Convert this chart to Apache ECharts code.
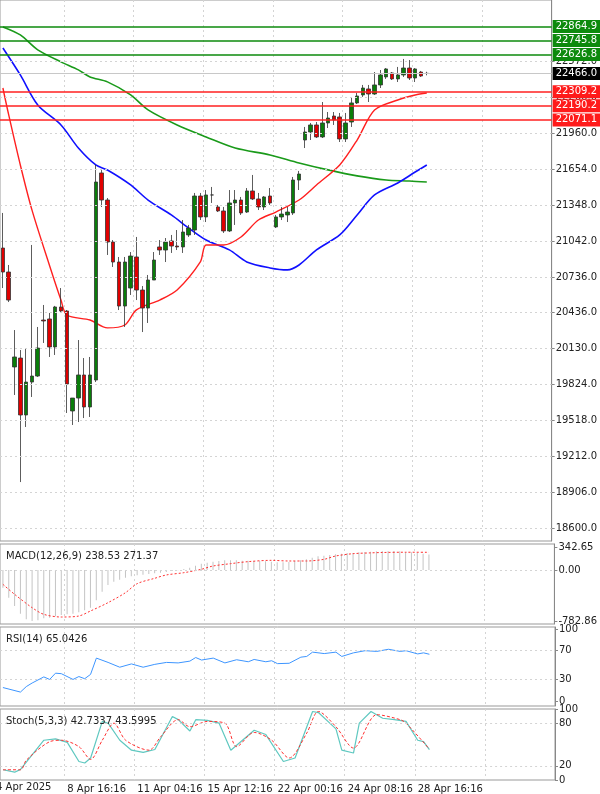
<!DOCTYPE html>
<html>
<head>
<meta charset="utf-8" />
<title>US100 H4</title>
<script src="https://cdn.jsdelivr.net/npm/echarts@6/dist/echarts.min.js"></script>
<style>
  html, body { margin: 0; padding: 0; background: #fff; }
  #chart { width: 600px; height: 794px; }
</style>
</head>
<body>
<div id="chart"></div>
<script>
// candles: [open, close, low, high]
var candles = [
  [20982,20778,20642,21280],[20778,20540,20523,20838],[19971,20056,19733,20285],[20047,19563,18993,20115],
  [19563,19843,19461,20132],[19843,19894,19716,21008],[19894,20132,19886,20311],[20370,20362,20175,20498],
  [20379,20141,20056,20430],[20141,20481,20073,20490],[20481,20447,20430,20642],[20447,19826,19580,20455],
  [19597,19707,19478,19707],[19707,19903,19503,20200],[19903,19631,19537,20047],[19631,19903,19546,20056],
  [19860,21543,19843,21688],[21620,21390,21331,21645],[21390,21033,20923,21407],[21033,20863,20821,21050],
  [20863,20489,20455,20906],[20489,20863,20311,20906],[20642,20914,20583,20948],[20906,20625,20540,21076],
  [20625,20472,20268,20659],[20472,20710,20345,20753],[20710,20880,20710,20948],[20991,20965,20923,21050],
  [20965,21033,20863,21067],[21042,20999,20940,21093],[20999,20991,20965,21135],[20991,21118,20940,21220],
  [21093,21152,21076,21178],[21135,21424,21093,21450],[21424,21246,21220,21450],[21246,21433,21203,21475],
  [21433,21433,21365,21501],[21331,21297,21288,21348],[21297,21127,21110,21331],[21127,21365,21118,21475],
  [21365,21390,21178,21475],[21390,21280,21263,21416],[21288,21467,21280,21492],[21467,21399,21390,21603],
  [21399,21331,21305,21450],[21331,21416,21305,21424],[21424,21365,21348,21492],[21161,21246,21152,21263],
  [21246,21271,21220,21331],[21263,21288,21203,21331],[21280,21560,21263,21586],[21560,21611,21475,21637],
  [21900,21968,21832,22011],[21968,22028,21900,22045],[22028,21926,21917,22053],[21926,22045,21917,22223],
  [22045,22087,22002,22138],[22104,22070,22028,22138],[22096,21909,21883,22130],[21909,22045,21883,22130],
  [22053,22215,22011,22257],[22215,22274,22206,22300],[22283,22342,22266,22368],[22334,22291,22223,22368],
  [22291,22368,22283,22478],[22368,22453,22342,22495],[22436,22504,22419,22512],[22470,22419,22410,22478],
  [22419,22453,22393,22521],[22453,22512,22436,22589],[22512,22427,22410,22580],[22427,22504,22393,22512],
  [22478,22444,22436,22487],[22466,22466,22450,22480]
];
// moving averages: [candle index, value]
var maFast = [[0,22342],[1,22113],[3,21688],[5,21306],[8,20838],[10,20540],[11,20413],[15,20370],[18,20303],
  [21,20328],[23,20456],[27,20540],[30,20625],[34,20864],[35,21008],[38,21008],[41,21076],[44,21220],[47,21288],
  [51,21390],[54,21518],[58,21688],[61,21900],[64,22155],[68,22240],[71,22283],[73,22300]];
var maMid = [[0,22682],[3,22453],[6,22198],[10,22028],[13,21832],[16,21688],[18,21645],[22,21518],[25,21390],
  [29,21263],[32,21152],[35,21050],[39,20966],[42,20864],[46,20813],[49,20796],[51,20838],[54,20966],[58,21093],
  [61,21263],[64,21433],[68,21535],[71,21628],[73,21688]];
var maSlow = [[0,22861],[3,22793],[6,22666],[10,22564],[13,22496],[15,22436],[18,22394],[22,22283],[25,22156],
  [30,22028],[35,21926],[40,21832],[46,21773],[51,21705],[56,21646],[61,21595],[66,21560],[70,21552],[73,21543]];

var macdHist = [-270,-423,-551,-668,-755,-780,-770,-739,-729,-709,-688,-678,-668,-647,-617,-576,-464,-331,-229,-178,
  -148,-117,-97,-81,-71,-61,-51,-41,-30,-15,-5,16,36,67,97,113,128,138,148,148,148,143,143,138,138,133,128,118,118,123,
  138,148,163,189,209,220,230,240,250,260,260,271,276,281,286,291,291,291,286,276,270,260,250,239];
var macdSignal = [[0,-219],[2,-372],[5,-576],[7,-678],[10,-719],[13,-704],[15,-627],[18,-500],[21,-347],[23,-209],
  [26,-127],[28,-76],[31,-41],[34,11],[36,61],[39,97],[42,128],[46,148],[49,138],[52,138],[55,163],[57,214],[60,250],
  [63,262],[65,268],[69,272],[73,271]];
var rsi = [[0,18.7],[3,12.4],[4,20],[5,25],[7,33.5],[8,30],[9,38.7],[10,38],[12,30],[13,34],[14,31],[15,37],[16,59.7],
  [18,53.7],[20,47],[22,51.6],[24,47],[26,51],[28,53.7],[30,53],[32,55.5],[33,60.5],[34,57],[36,59.7],[38,53],[40,57.4],
  [42,54.6],[43,57.8],[45,54.6],[46,56],[47,52],[49,52.5],[51,61],[52,62],[53,68],[55,66],[57,68],[58,62],[60,67],
  [62,70],[64,69],[66,72],[68,69],[69,70],[71,65.5],[72,67],[73,65.04]];
var stochMain = [[0,14.4],[2,11],[3,15],[7,56],[9,58],[11,53],[13,26],[14,24],[15,31],[17,82.5],[18,80],[20,56],
  [22,42],[24,39],[26,43],[29,89.5],[30,85],[32,69],[33,85],[35,84],[37,80],[39,42],[43,70],[45,64],[48,26],[50,31],
  [53,96.5],[54,95],[57,72],[58,42],[60,38],[61,80],[63,96.5],[65,87],[67,85],[69,82.5],[71,56],[72,54],[73,42.7]];
var stochSignal = [[0,14.4],[3,14.4],[4,28],[8,54],[10,56],[13,47],[15,29],[17,56],[19,80],[21,56],[25,42],[27,61],
  [30,85],[32,75],[35,82.5],[38,80],[40,47],[43,67],[46,56],[49,31],[52,66],[54,96.5],[57,75],[60,45],[64,92],
  [68,85],[69,80],[73,43.6]];

var priceTicks = [18600,18906,19212,19518,19824,20130,20436,20736,21042,21348,21654,21960,22266,22572];
var greenLevels = [22864.9, 22745.8, 22626.8];
var redLevels = [22309.2, 22190.2, 22071.1];
var lastPrice = 22466.0;
var dateLabels = {11:'8 Apr 16:16', 23:'11 Apr 04:16', 35:'15 Apr 12:16', 47:'22 Apr 00:16', 59:'24 Apr 08:16', 71:'28 Apr 16:16'};
var gridIdx = [11,23,35,47,59,71,83];
var slots = 95;

var cats = [];
for (var i = 0; i < slots; i++) cats.push(dateLabels[i] || '');

var font = 'DejaVu Sans';
var chart = echarts.init(document.getElementById('chart'));

function xAx(g, showLabel) {
  return {
    type: 'category', gridIndex: g, data: cats, boundaryGap: true,
    axisLine: {show: false}, axisTick: {show: false},
    axisLabel: {show: showLabel, interval: 0, align: 'left', fontFamily: font, fontSize: 10, color: '#222', margin: 4},
    splitLine: {show: true, interval: function (idx) { return gridIdx.indexOf(idx) >= 0; },
      lineStyle: {color: '#d4d4d4', type: [2, 3]}}
  };
}
function yAx(g, min, max, ticks, fmt) {
  return {
    type: 'value', gridIndex: g, position: 'right', min: min, max: max,
    axisLine: {show: true, lineStyle: {color: '#888'}},
    axisTick: {show: true, customValues: ticks, length: 3, lineStyle: {color: '#888'}},
    axisLabel: {customValues: ticks, fontFamily: font, fontSize: 10, color: '#222', margin: 4,
      formatter: function (v) { return fmt ? v.toFixed(fmt) : String(v); }},
    splitLine: {show: false}
  };
}
function hLines(xi, yi, vals) {
  return {
    type: 'line', xAxisIndex: xi, yAxisIndex: yi, data: [], silent: true,
    markLine: {symbol: 'none', silent: true, label: {show: false}, animation: false,
      lineStyle: {color: '#d4d4d4', type: [2, 3], width: 1},
      data: vals.map(function (v) { return {yAxis: v}; })}
  };
}
function level(v, bg, lineColor) {
  return {yAxis: v, lineStyle: {color: lineColor, type: 'solid', width: 1.5},
    label: {show: true, position: 'end', distance: 1, formatter: v.toFixed(1), color: '#fff', backgroundColor: bg,
      padding: [2, 3, 1, 3], fontFamily: font, fontSize: 10}};
}
var levels = [{yAxis: lastPrice, lineStyle: {color: '#c8c8c8', type: 'solid', width: 1},
  label: {show: true, position: 'end', distance: 1, formatter: lastPrice.toFixed(1), color: '#fff',
    backgroundColor: '#000', padding: [2, 3, 1, 3], fontFamily: font, fontSize: 10}}];
greenLevels.forEach(function (v) { levels.push(level(v, '#0d8a0d', '#0d8a0d')); });
redLevels.forEach(function (v) { levels.push(level(v, '#ff1a1a', '#ff2020')); });

function ln(xi, yi, data, color, w, type, smooth) {
  return {type: 'line', xAxisIndex: xi, yAxisIndex: yi, data: data, showSymbol: false, connectNulls: true,
    smooth: smooth || false, silent: true, lineStyle: {color: color, width: w, type: type || 'solid'}, z: 3};
}
function title(text, top) {
  return {text: text, left: 1, top: top, textStyle: {fontFamily: font, fontSize: 10, fontWeight: 'normal', color: '#222'}};
}

chart.setOption({
  animation: false,
  title: [title('MACD(12,26,9) 238.53 271.37', 546), title('RSI(14) 65.0426', 629), title('Stoch(5,3,3) 42.7337 43.5995', 711)],
  grid: [
    {left: 0, right: 45, top: 0, height: 541, show: true, borderColor: '#999', borderWidth: 1},
    {left: 0, right: 45, top: 544, height: 80, show: true, borderColor: '#999', borderWidth: 1},
    {left: 0, right: 45, top: 627, height: 79, show: true, borderColor: '#999', borderWidth: 1},
    {left: 0, right: 45, top: 709, height: 71, show: true, borderColor: '#999', borderWidth: 1}
  ],
  xAxis: [xAx(0, false), xAx(1, false), xAx(2, false), xAx(3, true)],
  yAxis: [
    yAx(0, 18492, 23090, priceTicks, 1),
    yAx(1, -826, 398, [342.65, 0, -782.86], 2),
    yAx(2, -7, 103, [0, 30, 70, 100]),
    yAx(3, 0, 100, [0, 20, 80, 100])
  ],
  graphic: [{type: 'text', left: -4, top: 782, style: {text: '4 Apr 2025', font: '10px "DejaVu Sans"', fill: '#222'}}],
  series: [
    hLines(0, 0, priceTicks),
    hLines(1, 1, [0]),
    hLines(2, 2, [30, 70]),
    hLines(3, 3, [20, 80]),
    ln(0, 0, maSlow, '#1a9a1a', 1.6, 'solid', 0.3),
    ln(0, 0, maMid, '#1010ff', 1.6, 'solid', 0.3),
    ln(0, 0, maFast, '#ff2020', 1.4, 'solid', 0.3),
    {
      type: 'candlestick', xAxisIndex: 0, yAxisIndex: 0, data: candles, barWidth: 4, z: 4,
      itemStyle: {color: '#0a7d0a', color0: '#e00000', borderColor: '#333', borderColor0: '#333', borderWidth: 0.8},
      markLine: {symbol: 'none', silent: true, animation: false, data: levels}
    },
    {type: 'bar', xAxisIndex: 1, yAxisIndex: 1, data: macdHist, barWidth: 1, silent: true,
      itemStyle: {color: '#c4c4c4'}},
    ln(1, 1, macdSignal, '#ff3030', 1, [2, 2], 0.3),
    ln(2, 2, rsi, '#3d95ff', 1),
    ln(3, 3, stochMain, '#5fc8c0', 1.2),
    ln(3, 3, stochSignal, '#ff3030', 1, [3, 2], 0.3)
  ]
});
</script>
</body>
</html>
